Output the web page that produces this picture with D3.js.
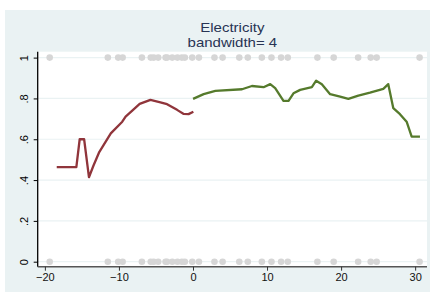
<!DOCTYPE html>
<html>
  <head>
    <meta charset="utf-8" />
    <script src="https://d3js.org/d3.v7.min.js"></script>
    <style>
      body { margin: 0; background: #fff; }
      text { font-family: "Liberation Sans", Arial, sans-serif; }
    </style>
  </head>
  <body>
    <svg id="chart" width="430" height="293"></svg>
    <script>
      // data
      const titleLines = ["Electricity", "bandwidth= 4"];
      const xTicks = [-20, -10, 0, 10, 20, 30];
      const yTicks = [0, 0.2, 0.4, 0.6, 0.8, 1];
      const yTickLabels = ["0", ".2", ".4", ".6", ".8", "1"];

      // observations (shown at y=0 and y=1)
      const obsX = [-19.35, -11.5, -10.1, -9.5, -6.9, -5.7, -5.3, -4.7, -3.7, -3.5,
        -2.8, -2.1, -1.5, -1.1, -0.1, 0.8, 2.9, 4.0, 6.25, 7.4, 9.3, 10.6, 11.9,
        12.8, 16.8, 19.0, 22.3, 24.0, 24.8, 30.6];

      // left of cutoff
      const leftX = [-18.4, -15.75, -15.3, -14.7, -14.05, -13.46, -12.7, -11.1, -9.55,
        -9.1, -8.2, -7.2, -5.75, -4.4, -3.5, -2.15, -1.25, -0.6, 0.05];
      const leftY = [0.463, 0.463, 0.6, 0.6, 0.414, 0.469, 0.534, 0.629, 0.686,
        0.711, 0.74, 0.773, 0.793, 0.781, 0.772, 0.744, 0.724, 0.723, 0.735];

      // right of cutoff
      const rightX = [0.01, 1.44, 3.02, 6.62, 7.96, 9.53, 10.43, 11.1, 12.22, 12.9,
        13.57, 14.47, 16.05, 16.63, 17.4, 18.52, 19.87, 20.98, 22.33, 23.9, 25.7,
        26.37, 27.05, 27.95, 28.85, 29.53, 30.65];
      const rightY = [0.798, 0.821, 0.837, 0.845, 0.861, 0.855, 0.87, 0.85, 0.788,
        0.788, 0.825, 0.842, 0.855, 0.887, 0.87, 0.821, 0.809, 0.798, 0.814,
        0.828, 0.847, 0.87, 0.752, 0.723, 0.686, 0.613, 0.613];

      const svg = d3.select("#chart");
      const plot = { left: 37.7, right: 427, top: 51.7, bottom: 266.7 };

      // outer (graph region) background
      svg.append("rect")
        .attr("x", 5).attr("y", 10)
        .attr("width", 425).attr("height", 282)
        .attr("fill", "#eaf2f3");

      // plot region
      svg.append("rect")
        .attr("x", plot.left).attr("y", plot.top)
        .attr("width", plot.right - plot.left)
        .attr("height", plot.bottom - plot.top)
        .attr("fill", "#fff");

      const x = d3.scaleLinear().domain([-20.97, 31.6]).range([plot.left, plot.right]);
      const y = d3.scaleLinear().domain([-0.0245, 1.029]).range([plot.bottom, plot.top]);

      // gridlines
      svg.append("g")
        .selectAll("line")
        .data(yTicks)
        .join("line")
        .attr("x1", plot.left).attr("x2", plot.right)
        .attr("y1", (d) => y(d)).attr("y2", (d) => y(d))
        .attr("stroke", "#eaf2f3")
        .attr("stroke-width", 1.2);

      // observation dots
      const dots = [];
      obsX.forEach((v) => { dots.push([v, 1]); dots.push([v, 0]); });
      svg.append("g")
        .selectAll("circle")
        .data(dots)
        .join("circle")
        .attr("cx", (d) => x(d[0]))
        .attr("cy", (d) => y(d[1]))
        .attr("r", 3.3)
        .attr("fill", "#d6d6d6");

      const line = d3.line().x((d) => x(d[0])).y((d) => y(d[1]));

      svg.append("path")
        .attr("d", line(leftX.map((v, i) => [v, leftY[i]])))
        .attr("fill", "none")
        .attr("stroke", "#90353b")
        .attr("stroke-width", 2.3)
        .attr("stroke-linejoin", "round");

      svg.append("path")
        .attr("d", line(rightX.map((v, i) => [v, rightY[i]])))
        .attr("fill", "none")
        .attr("stroke", "#557a2c")
        .attr("stroke-width", 2.3)
        .attr("stroke-linejoin", "round");

      // y axis
      const yAxis = svg.append("g")
        .attr("transform", "translate(" + plot.left + ",0)")
        .call(d3.axisLeft(y).tickValues(yTicks).tickSize(4).tickPadding(9)
          .tickFormat((d, i) => yTickLabels[i]));
      yAxis.select(".domain")
        .attr("d", "M0," + plot.top + "V" + plot.bottom)
        .attr("stroke", "#000").attr("stroke-width", 1.3);
      yAxis.selectAll(".tick line").attr("stroke", "#000");
      yAxis.selectAll(".tick text")
        .attr("x", -14).attr("dy", 0)
        .attr("transform", "rotate(-90,-14,0)")
        .attr("text-anchor", "middle")
        .attr("dominant-baseline", "central")
        .attr("fill", "#000")
        .style("font-size", "11px");

      // x axis
      const xAxis = svg.append("g")
        .attr("transform", "translate(0," + plot.bottom + ")")
        .call(d3.axisBottom(x).tickValues(xTicks).tickSize(4).tickPadding(3));
      xAxis.select(".domain")
        .attr("d", "M" + plot.left + ",0H" + plot.right)
        .attr("stroke", "#555").attr("stroke-width", 1.6);
      xAxis.selectAll(".tick line").attr("stroke", "#333");
      xAxis.selectAll(".tick text")
        .attr("fill", "#111")
        .style("font-size", "11px");

      // title (slightly wide glyphs, as in the reference)
      const cx = (plot.left + plot.right) / 2;
      svg.append("g")
        .attr("transform", "translate(" + cx + ",0) scale(1.2,1)")
        .selectAll("text")
        .data(titleLines)
        .join("text")
        .attr("x", 0)
        .attr("y", (d, i) => 32.5 + i * 14.5)
        .attr("text-anchor", "middle")
        .attr("fill", "#283454")
        .style("font-size", "12.5px")
        .text((d) => d);
    </script>
  </body>
</html>
